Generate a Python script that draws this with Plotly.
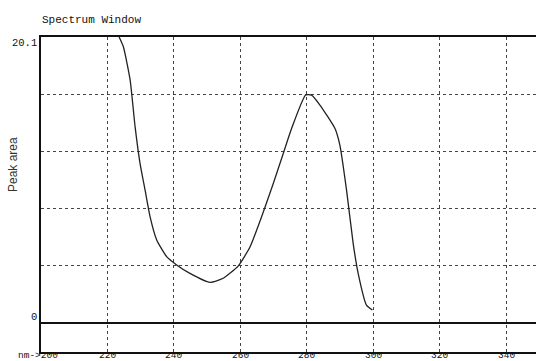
import plotly.graph_objects as go

wavelength_nm = [223.5, 224.8, 226.8, 228.3, 229.8, 231.3, 232.8, 234.8, 237.8, 240.8, 244.8, 250.8,
                 254.8, 259.3, 262.9, 266.9, 269.9, 272.9, 275.4, 279.6, 281.4, 283.9, 288.4, 289.9,
                 291.9, 293.9, 295.4, 297.9, 299.7]
peak_area = [20.1, 19.4, 17.1, 13.8, 11.2, 9.35, 7.47, 5.83, 4.66, 4.08, 3.49, 2.86,
             3.14, 4.0, 5.36, 7.82, 9.82, 11.93, 13.68, 16.02, 16.02, 15.32, 13.68, 12.5,
             9.35, 5.6, 3.49, 1.26, 0.91]

x_ticks = [200, 220, 240, 260, 280, 300, 320, 340]
x_tick_labels = ["nm->200", "220", "240", "260", "280", "300", "320", "340"]
y_ticks = [0, 4.02, 8.04, 12.06, 16.08, 20.1]
y_tick_labels = ["0", "", "", "", "", "20.1"]

mono = "Liberation Mono"
W, H = 536, 361
L, R, T, B = 41, 0, 37, 9
PW, PH = W - L - R, H - T - B

fig = go.Figure()
fig.add_trace(go.Scatter(
    x=wavelength_nm, y=peak_area, mode="lines",
    line=dict(color="#222222", width=1.3, shape="spline", smoothing=0.5),
    showlegend=False, cliponaxis=True, hoverinfo="skip",
))

annotations = []
for v, t in zip(x_ticks, x_tick_labels):
    annotations.append(dict(x=v, y=-3.5 / PH, xref="x", yref="paper", text=t, showarrow=False,
                            xanchor="center", yanchor="middle",
                            xshift=(-3 if t.startswith("nm") else 0),
                            font=dict(family=mono, size=9.5, color="#111111")))
for v, t in zip(y_ticks, y_tick_labels):
    if not t:
        continue
    annotations.append(dict(x=0, y=v, xref="paper", yref="y", text=t, showarrow=False,
                            xanchor="right", yanchor="middle", xshift=-2,
                            yshift=(-6 if v > 0 else 6),
                            font=dict(family=mono, size=10.5, color="#111111")))
annotations.append(dict(x=(13 - L) / PW, y=(H - B - 165) / PH, xref="paper", yref="paper",
                        text="Peak area", showarrow=False, textangle=-90,
                        xanchor="center", yanchor="middle",
                        font=dict(family="Liberation Sans", size=12, color="#333333")))

fig.update_layout(
    width=W, height=H,
    margin=dict(l=L, r=R, t=T, b=B, pad=0),
    paper_bgcolor="white", plot_bgcolor="white",
    title=dict(text="Spectrum Window", x=42 / W, xanchor="left", y=1 - 19 / H, yanchor="middle",
               font=dict(family=mono, size=11, color="#111111")),
    annotations=annotations,
    xaxis=dict(range=[200, 348.9], tickvals=x_ticks, showticklabels=False,
               showgrid=True, gridcolor="#444444", griddash="dot", gridwidth=1,
               showline=True, linecolor="#111111", linewidth=2, mirror=True,
               ticks="", zeroline=False, automargin=False),
    yaxis=dict(range=[-2.04, 20.1], tickvals=y_ticks, showticklabels=False,
               showgrid=True, gridcolor="#444444", griddash="dot", gridwidth=1,
               showline=True, linecolor="#111111", linewidth=1.5,
               zeroline=True, zerolinecolor="#111111", zerolinewidth=1.5,
               ticks="", automargin=False),
)

fig.write_html("out.html", config={"displayModeBar": False},
               post_script="document.body.style.margin='0';document.body.style.overflow='hidden';")
